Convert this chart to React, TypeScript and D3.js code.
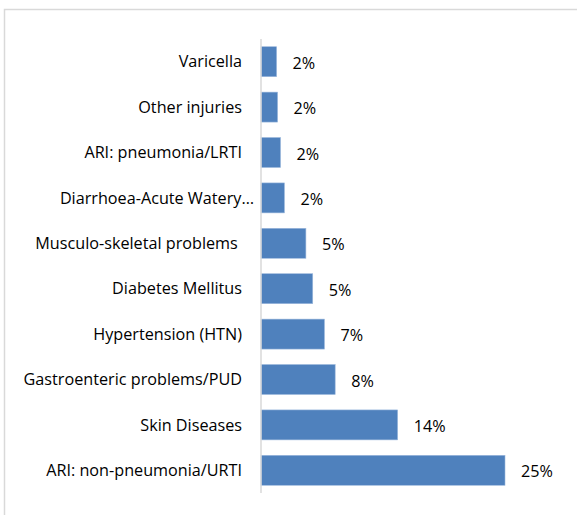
import { useEffect, useRef } from 'react';
import * as d3 from 'd3';

const categories = [
  'Varicella',
  'Other injuries',
  'ARI: pneumonia/LRTI',
  'Diarrhoea-Acute Watery…',
  'Musculo-skeletal problems ',
  'Diabetes Mellitus',
  'Hypertension (HTN)',
  'Gastroenteric problems/PUD',
  'Skin Diseases',
  'ARI: non-pneumonia/URTI',
];
const values = [1.6, 1.7, 2.0, 2.4, 4.6, 5.3, 6.5, 7.6, 14.0, 25.0];
const valueLabels = ['2%', '2%', '2%', '2%', '5%', '5%', '7%', '8%', '14%', '25%'];

const width = 577;
const height = 515;

export default function App() {
  const svgRef = useRef<SVGSVGElement>(null);

  useEffect(() => {
    const svg = d3.select(svgRef.current);
    svg.selectAll('*').remove();

    const axisX = 261;
    const font = '"Open Sans", sans-serif';

    // outer chart frame (runs off the right and bottom edges)
    svg.append('rect')
      .attr('x', 4.5)
      .attr('y', 9.5)
      .attr('width', 700)
      .attr('height', 700)
      .attr('fill', 'white')
      .attr('stroke', '#d9d9d9')
      .attr('stroke-width', 1.5);

    const x = d3.scaleLinear().domain([0, 25]).range([axisX, 505]);
    const y = d3.scaleBand<string>()
      .domain(categories)
      .range([39, 493])
      .paddingInner(0.34)
      .paddingOuter(0.17);

    const rows = categories.map((c, i) => ({ c, v: values[i], label: valueLabels[i] }));

    // bars
    svg.append('g')
      .selectAll('rect')
      .data(rows)
      .enter().append('rect')
      .attr('x', x(0))
      .attr('y', d => y(d.c)!)
      .attr('width', d => x(d.v) - x(0))
      .attr('height', y.bandwidth())
      .attr('fill', '#4f81bd')
      .attr('stroke', '#9cb8dc')
      .attr('stroke-width', 0.6);

    // axis line
    svg.append('line')
      .attr('x1', axisX)
      .attr('x2', axisX)
      .attr('y1', 39)
      .attr('y2', 493)
      .attr('stroke', '#d9d9d9')
      .attr('stroke-width', 1.5);

    // category labels
    svg.append('g')
      .selectAll('text')
      .data(rows)
      .enter().append('text')
      .attr('x', d => (d.c.endsWith('…') ? axisX - 7 : axisX - 19))
      .attr('y', d => y(d.c)! + y.bandwidth() / 2)
      .attr('dy', '0.35em')
      .attr('text-anchor', 'end')
      .style('font-family', font)
      .style('font-size', '16.2px')
      .style('fill', '#000')
      .style('white-space', 'pre')
      .text(d => d.c);

    // value labels
    svg.append('g')
      .selectAll('text')
      .data(rows)
      .enter().append('text')
      .attr('x', d => x(d.v) + 16)
      .attr('y', d => y(d.c)! + y.bandwidth() / 2 + 1.5)
      .attr('dy', '0.35em')
      .style('font-family', font)
      .style('font-size', '16.2px')
      .style('fill', '#000')
      .text(d => d.label);
  }, []);

  return (
    <svg
      ref={svgRef}
      width={width}
      height={height}
      style={{ position: 'absolute', left: 0, top: 0, background: 'white' }}
    />
  );
}
